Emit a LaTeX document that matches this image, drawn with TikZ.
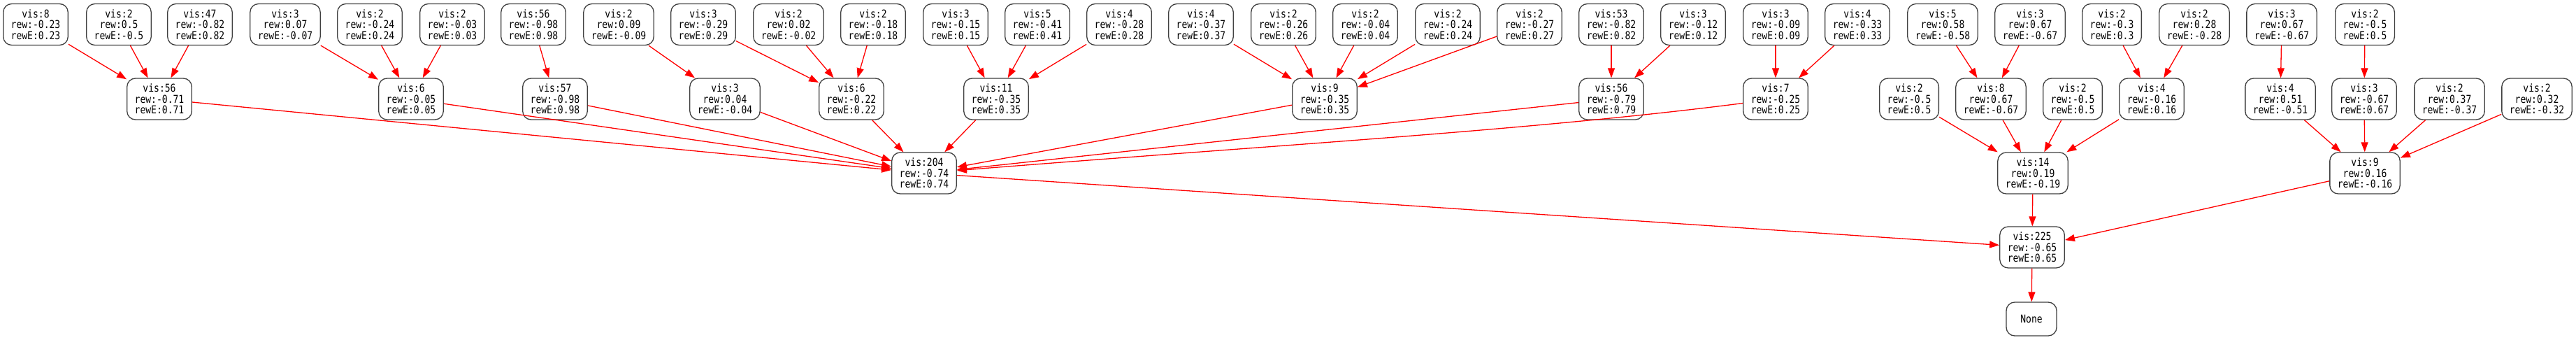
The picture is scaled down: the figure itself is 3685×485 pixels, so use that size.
\documentclass[tikz,border=0pt]{standalone}
\usepackage{fontspec}
\newfontfamily\nodefont[FakeStretch=0.84]{DejaVu Sans Mono}
\usetikzlibrary{arrows.meta}
\tikzset{
  tnode/.style={draw=black!75, line width=1.3pt, rounded corners=12pt, fill=white,
    align=center, inner xsep=11pt, inner ysep=0pt, minimum height=59pt,
    font={\nodefont\fontsize{15.5pt}{15.5pt}\selectfont}},
  edge/.style={draw=red, line width=1.3pt, -{Triangle[length=14pt,width=10pt]}},
}
\newcommand\tn[6]{\node[tnode] (#1) at (#2,#3) {vis:#4\\rew:#5\\rewE:#6};}
\begin{document}
\begin{tikzpicture}[x=1pt,y=-1pt]
\useasboundingbox[fill=white] (0,0) rectangle (3685,485);
% top row
\tn{n1}{51}{35}{8}{-0.23}{0.23}
\tn{n2}{170}{35}{2}{0.5}{-0.5}
\tn{n3}{286}{35}{47}{-0.82}{0.82}
\tn{n4}{408}{35}{3}{0.07}{-0.07}
\tn{n5}{529}{35}{2}{-0.24}{0.24}
\tn{n6}{647}{35}{2}{-0.03}{0.03}
\tn{n7}{763}{35}{56}{-0.98}{0.98}
\tn{n8}{885}{35}{2}{0.09}{-0.09}
\tn{n9}{1006}{35}{3}{-0.29}{0.29}
\tn{n10}{1128}{35}{2}{0.02}{-0.02}
\tn{n11}{1249}{35}{2}{-0.18}{0.18}
\tn{n12}{1367}{35}{3}{-0.15}{0.15}
\tn{n13}{1484}{35}{5}{-0.41}{0.41}
\tn{n14}{1601}{35}{4}{-0.28}{0.28}
\tn{n15}{1718}{35}{4}{-0.37}{0.37}
\tn{n16}{1836}{35}{2}{-0.26}{0.26}
\tn{n17}{1953}{35}{2}{-0.04}{0.04}
\tn{n18}{2071}{35}{2}{-0.24}{0.24}
\tn{n19}{2188}{35}{2}{-0.27}{0.27}
\tn{n20}{2305}{35}{53}{-0.82}{0.82}
\tn{n21}{2422}{35}{3}{-0.12}{0.12}
\tn{n22}{2540}{35}{3}{-0.09}{0.09}
\tn{n23}{2657}{35}{4}{-0.33}{0.33}
\tn{n24}{2779}{35}{5}{0.58}{-0.58}
\tn{n25}{2904}{35}{3}{0.67}{-0.67}
\tn{n26}{3021}{35}{2}{-0.3}{0.3}
\tn{n27}{3139}{35}{2}{0.28}{-0.28}
\tn{n28}{3264}{35}{3}{0.67}{-0.67}
\tn{n29}{3383}{35}{2}{-0.5}{0.5}
% second row
\tn{m1}{228}{141.5}{56}{-0.71}{0.71}
\tn{m2}{588}{141.5}{6}{-0.05}{0.05}
\tn{m3}{794}{141.5}{57}{-0.98}{0.98}
\tn{m4}{1037}{141.5}{3}{0.04}{-0.04}
\tn{m5}{1218}{141.5}{6}{-0.22}{0.22}
\tn{m6}{1425}{141.5}{11}{-0.35}{0.35}
\tn{m7}{1895}{141.5}{9}{-0.35}{0.35}
\tn{m8}{2305}{141.5}{56}{-0.79}{0.79}
\tn{m9}{2540}{141.5}{7}{-0.25}{0.25}
\tn{m10}{2731}{141.5}{2}{-0.5}{0.5}
\tn{m11}{2848}{141.5}{8}{0.67}{-0.67}
\tn{m12}{2965}{141.5}{2}{-0.5}{0.5}
\tn{m13}{3078}{141.5}{4}{-0.16}{0.16}
\tn{m14}{3262}{141.5}{4}{0.51}{-0.51}
\tn{m15}{3382}{141.5}{3}{-0.67}{0.67}
\tn{m16}{3504}{141.5}{2}{0.37}{-0.37}
\tn{m17}{3629}{141.5}{2}{0.32}{-0.32}
% third row
\tn{v204}{1322}{247.5}{204}{-0.74}{0.74}
\tn{v14}{2908}{247.5}{14}{0.19}{-0.19}
\tn{v9}{3383}{247.5}{9}{0.16}{-0.16}
% fourth row
\tn{v225}{2907}{353.5}{225}{-0.65}{0.65}
\node[tnode, minimum width=72pt, minimum height=48pt] (none) at (2906,456) {None};
% edges top -> second
\draw[edge] (n1) -- (m1);
\draw[edge] (n2) -- (m1);
\draw[edge] (n3) -- (m1);
\draw[edge] (n4) -- (m2);
\draw[edge] (n5) -- (m2);
\draw[edge] (n6) -- (m2);
\draw[edge] (n7) -- (m3);
\draw[edge] (n8) -- (m4);
\draw[edge] (n9) -- (m5);
\draw[edge] (n10) -- (m5);
\draw[edge] (n11) -- (m5);
\draw[edge] (n12) -- (m6);
\draw[edge] (n13) -- (m6);
\draw[edge] (n14) -- (m6);
\draw[edge] (n15) -- (m7);
\draw[edge] (n16) -- (m7);
\draw[edge] (n17) -- (m7);
\draw[edge] (n18) -- (m7);
\draw[edge] (n19) -- (m7);
\draw[edge] (n20) -- (m8);
\draw[edge] (n21) -- (m8);
\draw[edge] (n22) -- (m9);
\draw[edge] (n23) -- (m9);
\draw[edge] (n24) -- (m11);
\draw[edge] (n25) -- (m11);
\draw[edge] (n26) -- (m13);
\draw[edge] (n27) -- (m13);
\draw[edge] (n28) -- (m14);
\draw[edge] (n29) -- (m15);
% second -> third
\draw[edge] (m1) -- (v204);
\draw[edge] (m2) -- (v204);
\draw[edge] (m3) -- (v204);
\draw[edge] (m4) -- (v204);
\draw[edge] (m5) -- (v204);
\draw[edge] (m6) -- (v204);
\draw[edge] (m7) -- (v204);
\draw[edge] (m8) -- (v204);
\draw[edge] (m9) .. controls +(-350,45) and +(500,-40) .. (v204);
\draw[edge] (m10) -- (v14);
\draw[edge] (m11) -- (v14);
\draw[edge] (m12) -- (v14);
\draw[edge] (m13) -- (v14);
\draw[edge] (m14) -- (v9);
\draw[edge] (m15) -- (v9);
\draw[edge] (m16) -- (v9);
\draw[edge] (m17) -- (v9);
% third -> fourth
\draw[edge] (v204) -- (v225);
\draw[edge] (v14) -- (v225);
\draw[edge] (v9) -- (v225);
\draw[edge] (v225) -- (none);
\end{tikzpicture}
\end{document}
